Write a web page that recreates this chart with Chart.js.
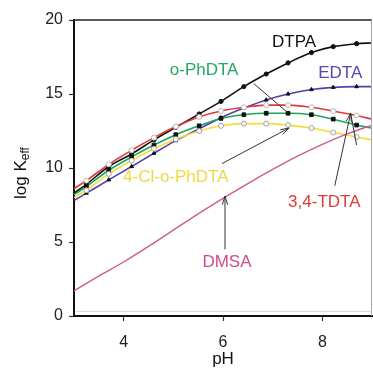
<!DOCTYPE html>
<html><head><meta charset="utf-8">
<script src="https://cdn.jsdelivr.net/npm/chart.js@4"></script>
<style>html,body{margin:0;padding:0;background:#fff}</style>
</head><body>
<canvas id="c" width="373" height="377"></canvas>
<script>
// ---- data ----
const phGrid = [3.0, 3.25, 3.7, 4.16, 4.61, 5.05, 5.52, 5.96, 6.42, 6.87, 7.31, 7.78, 8.22, 8.69, 9.0];
const dtpa   = [8.3, 8.9, 10.1, 10.95, 11.9, 12.75, 13.65, 14.5, 15.5, 16.35, 17.1, 17.8, 18.2, 18.4, 18.45];
const edta   = [7.8, 8.3, 9.2, 10.1, 11.0, 11.85, 12.65, 13.4, 14.05, 14.6, 15.0, 15.3, 15.45, 15.5, 15.5];
const tdta34 = [8.6, 9.15, 10.25, 11.2, 12.05, 12.8, 13.45, 13.85, 14.1, 14.25, 14.25, 14.1, 13.85, 13.55, 13.3];
const oPhdta = [8.2, 8.75, 9.85, 10.75, 11.55, 12.25, 12.85, 13.35, 13.6, 13.7, 13.7, 13.6, 13.3, 12.9, 12.7];
const clPhdta= [8.0, 8.5, 9.6, 10.5, 11.3, 11.95, 12.5, 12.85, 13.0, 13.0, 12.9, 12.7, 12.4, 12.1, 11.9];
const phDmsa = [3.0, 3.5, 4.0, 4.5, 5.0, 5.5, 6.0, 6.5, 7.0, 7.5, 8.0, 8.5, 9.0];
const dmsa   = [1.7, 2.7, 3.65, 4.7, 5.8, 6.9, 7.95, 8.95, 9.9, 10.8, 11.6, 12.3, 12.9];
const xTicks = [4, 6, 8];
const yTicks = [0, 5, 10, 15, 20];

const pts = (xs, ys) => xs.map((v, i) => ({x: v, y: ys[i]}));

function series(label, ys, color, marker, r, fill, border) {
  return {
    label, data: pts(phGrid, ys), borderColor: color, borderWidth: 1.6,
    pointStyle: marker,
    pointRadius: c => (c.dataIndex === 0 || c.dataIndex === phGrid.length - 1) ? 0 : r,
    pointBackgroundColor: fill, pointBorderColor: border, pointBorderWidth: 1,
    cubicInterpolationMode: 'monotone', fill: false
  };
}

const datasets = [
  {label: 'DMSA', data: pts(phDmsa, dmsa), borderColor: '#cf5a92', borderWidth: 1.4,
   pointRadius: 0, cubicInterpolationMode: 'monotone', fill: false},
  series('4-Cl-o-PhDTA', clPhdta, '#f3dc3a', 'circle', 2.5, '#fff', '#a0a0a0'),
  series('3,4-TDTA', tdta34, '#e23a36', 'circle', 2.5, '#fff', '#b8b8b8'),
  series('o-PhDTA', oPhdta, '#1aa55c', 'rect', 2.6, '#111', '#111'),
  series('EDTA', edta, '#5540a8', 'triangle', 2.2, '#111', '#111'),
  series('DTPA', dtpa, '#111', 'circle', 2.1, '#111', '#111')
];

// annotation texts and pointers, in data units (pH, log Keff)
const notes = [
  {text: 'DTPA', x: 7.43, y: 18.5, color: '#111'},
  {text: 'EDTA', x: 8.36, y: 16.4, color: '#5a46b0'},
  {text: 'o-PhDTA', x: 5.62, y: 16.6, color: '#23a862'},
  {text: '4-Cl-o-PhDTA', x: 5.05, y: 9.35, color: '#f0d840'},
  {text: '3,4-TDTA', x: 8.04, y: 7.7, color: '#dd3a36'},
  {text: 'DMSA', x: 6.08, y: 3.6, color: '#d04a8c'}
];
const pointers = [
  {from: [6.62, 15.7], to: [7.3, 13.75], head: false},
  {from: [5.98, 10.3], to: [7.33, 12.7], head: true},
  {from: [6.04, 4.5], to: [6.04, 8.1], head: true},
  {from: [8.25, 8.8], to: [8.57, 13.7], head: true},
  {from: [8.69, 11.55], to: [8.57, 13.7], head: false}
];

const FONT = "'Liberation Sans', Arial, sans-serif";

const decor = {
  id: 'decor',
  afterDatasetsDraw(chart) {
    const {ctx, chartArea: a, scales: {x, y}} = chart;
    ctx.save();
    // frame top / right
    ctx.strokeStyle = '#222'; ctx.lineWidth = 1.6;
    ctx.beginPath(); ctx.moveTo(a.left, a.top); ctx.lineTo(a.right, a.top); ctx.stroke();
    ctx.strokeStyle = '#a8a8a8'; ctx.lineWidth = 1;
    ctx.beginPath(); ctx.moveTo(a.right - 0.5, a.top); ctx.lineTo(a.right - 0.5, a.bottom); ctx.stroke();
    ctx.strokeStyle = '#d8d8d8';
    ctx.beginPath(); ctx.moveTo(a.left + 2, a.bottom - 4.5); ctx.lineTo(a.right, a.bottom - 4.5); ctx.stroke();
    // pointers
    ctx.strokeStyle = '#333'; ctx.lineWidth = 1;
    pointers.forEach(p => {
      const x0 = x.getPixelForValue(p.from[0]), y0 = y.getPixelForValue(p.from[1]);
      const x1 = x.getPixelForValue(p.to[0]), y1 = y.getPixelForValue(p.to[1]);
      ctx.beginPath(); ctx.moveTo(x0, y0); ctx.lineTo(x1, y1); ctx.stroke();
      if (p.head) {
        const ang = Math.atan2(y1 - y0, x1 - x0), L = 9;
        ctx.beginPath();
        ctx.moveTo(x1 - L * Math.cos(ang - 0.3), y1 - L * Math.sin(ang - 0.3));
        ctx.lineTo(x1, y1);
        ctx.lineTo(x1 - L * Math.cos(ang + 0.3), y1 - L * Math.sin(ang + 0.3));
        ctx.stroke();
      }
    });
    // labels
    ctx.font = '17px ' + FONT; ctx.textAlign = 'center'; ctx.textBaseline = 'middle';
    notes.forEach(n => {
      ctx.fillStyle = n.color;
      ctx.fillText(n.text, x.getPixelForValue(n.x), y.getPixelForValue(n.y));
    });
    // y title: log K_eff
    const cx = 21, cy = (a.top + a.bottom) / 2 + 5;
    ctx.translate(cx, cy); ctx.rotate(-Math.PI / 2);
    ctx.fillStyle = '#111';
    ctx.font = '17px ' + FONT;
    const w1 = ctx.measureText('log K').width;
    ctx.font = '12px ' + FONT;
    const w2 = ctx.measureText('eff').width;
    const start = -(w1 + w2) / 2;
    ctx.textAlign = 'left';
    ctx.font = '17px ' + FONT;
    ctx.fillText('log K', start, 0);
    ctx.font = '12px ' + FONT;
    ctx.fillText('eff', start + w1, 5);
    ctx.restore();
  }
};

new Chart(document.getElementById('c'), {
  type: 'line',
  data: {datasets},
  options: {
    responsive: false, animation: false, devicePixelRatio: 1,
    layout: {padding: {top: 20, right: 1, left: 0, bottom: 0}},
    plugins: {legend: {display: false}, tooltip: {enabled: false}},
    scales: {
      x: {
        type: 'linear', min: 3, max: 9,
        afterBuildTicks: s => { s.ticks = xTicks.map(v => ({value: v})); },
        afterFit: s => { s.height = 61; },
        grid: {drawOnChartArea: false, drawTicks: true, tickLength: 5, color: '#333', tickWidth: 1.2},
        border: {display: true, color: '#111', width: 2},
        ticks: {font: {size: 16, family: FONT}, color: '#222', padding: 12},
        title: {display: true, text: 'pH', font: {size: 17, family: FONT}, color: '#111', padding: {top: 0, bottom: 7}}
      },
      y: {
        min: 0, max: 20,
        afterBuildTicks: s => { s.ticks = yTicks.map(v => ({value: v})); },
        afterFit: s => { s.width = 74; },
        grid: {drawOnChartArea: false, drawTicks: true, tickLength: 5, color: '#333', tickWidth: 1.2},
        border: {display: true, color: '#111', width: 2},
        ticks: {font: {size: 16, family: FONT}, color: '#222', padding: 6}
      }
    }
  },
  plugins: [decor]
});
</script>
</body></html>
